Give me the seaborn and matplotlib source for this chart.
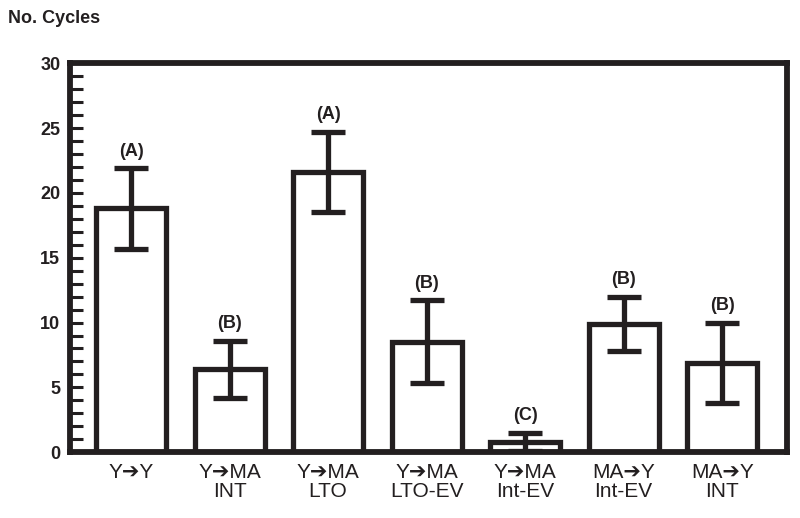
"""Bar chart of number of cycles per transfer group, with group letters."""

import matplotlib
matplotlib.use("Agg")
import matplotlib.pyplot as plt
import numpy as np
import pandas as pd
import seaborn as sns

groups = ["Y\u2794Y", "Y\u2794MA\nINT", "Y\u2794MA\nLTO", "Y\u2794MA\nLTO-EV",
          "Y\u2794MA\nInt-EV", "MA\u2794Y\nInt-EV", "MA\u2794Y\nINT"]
means = [18.8, 6.4, 21.6, 8.5, 0.8, 9.9, 6.9]
errors = [3.1, 2.2, 3.1, 3.2, 0.7, 2.1, 3.1]
letters = ["(A)", "(B)", "(A)", "(B)", "(C)", "(B)", "(B)"]

df = pd.DataFrame({"group": groups, "cycles": means})

sns.set_style("white")
ink = "#231f20"
fig = plt.figure(figsize=(8, 5.18), dpi=100)
ax = fig.add_axes([0.0875, 0.127, 0.8965, 0.751])

sns.barplot(data=df, x="group", y="cycles", ax=ax, color="white",
            edgecolor=ink, linewidth=3.8, width=0.71, errorbar=None,
            zorder=2)

x = np.arange(len(groups))
ax.errorbar(x, means, yerr=errors, fmt="none", ecolor=ink,
            elinewidth=3.8, capsize=12, capthick=3.8, zorder=3)

for xi, m, e, lab in zip(x, means, errors, letters):
    ax.text(xi, m + e + 0.65, lab, ha="center", va="bottom",
            fontsize=13, fontweight="bold", family="Liberation Sans",
            color=ink)

ax.set_xlim(-0.62, 6.66)
ax.set_ylim(0, 30)
ax.set_yticks(range(0, 31, 5))
ax.set_yticks(range(0, 31), minor=True)
ax.tick_params(axis="y", which="both", direction="in", left=True,
               length=9, width=2.2, colors=ink)
ax.tick_params(axis="y", which="major", labelsize=13, pad=7)
ax.tick_params(axis="x", length=0, pad=8, colors=ink)
for t in ax.get_yticklabels():
    t.set_fontweight("bold")
    t.set_family("Liberation Sans")
for t in ax.get_xticklabels():
    t.set_family(["Liberation Sans", "DejaVu Sans"])
    t.set_fontsize(15)
    t.set_linespacing(0.95)

for s in ax.spines.values():
    s.set_linewidth(4.2)
    s.set_color(ink)

ax.set_xlabel("")
ax.set_ylabel("")
fig.text(0.01, 0.965, "No. Cycles", fontsize=13, fontweight="bold",
         family="Liberation Sans", ha="left", va="center", color=ink)

fig.savefig("out.png", dpi=100)
